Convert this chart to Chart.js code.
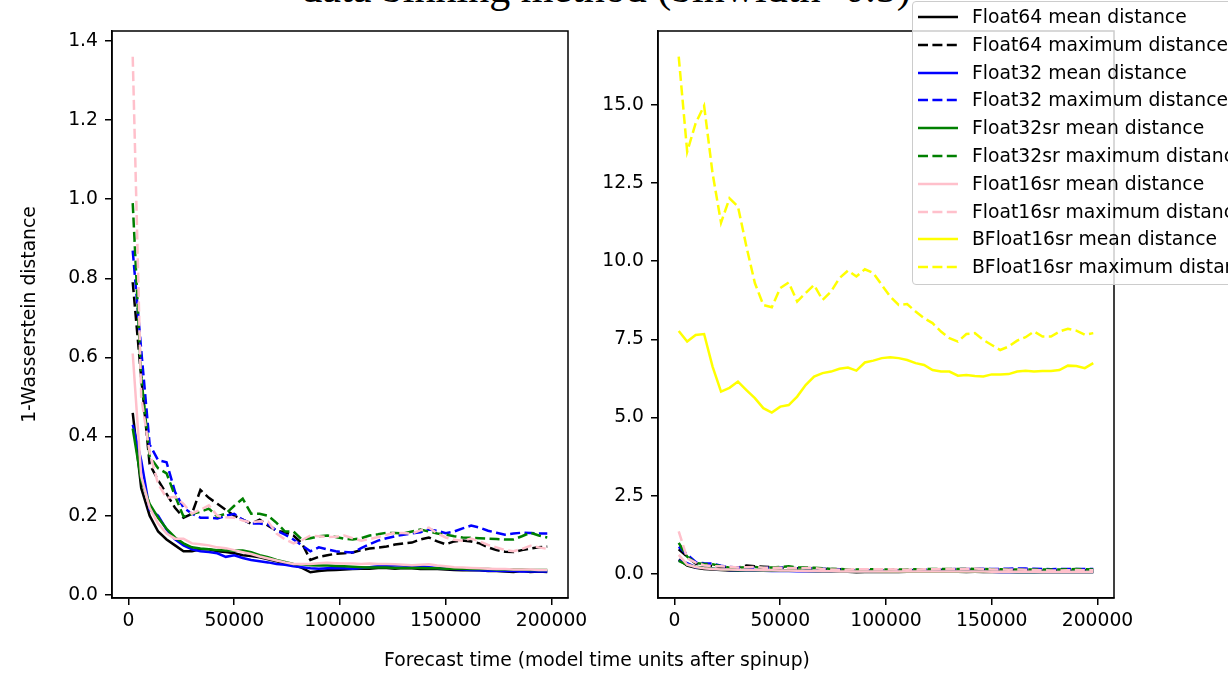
<!DOCTYPE html>
<html>
<head>
<meta charset="utf-8">
<script src="https://cdn.jsdelivr.net/npm/chart.js@4.4.1/dist/chart.umd.min.js"></script>
<style>
  html, body { margin: 0; padding: 0; background: #fff; }
  body { width: 1228px; height: 673px; overflow: hidden; position: relative; font-family: "DejaVu Sans", sans-serif; color: #000; }
  canvas { position: absolute; top: 0; }
  #left { left: 0; }
  #right { left: 560px; }
  #title { position: absolute; left: -8px; width: 1228px; top: -33px; text-align: center; font-family: "Liberation Serif", serif; font-size: 42px; line-height: 42px; white-space: nowrap; }
  #xlabel { position: absolute; left: 0; width: 1194px; top: 648px; text-align: center; font-size: 18.75px; line-height: 24px; white-space: nowrap; }
  #legend { position: absolute; left: 912px; top: 1px; width: 360px; height: 282px; border: 1px solid #ccc; border-radius: 4px; background: rgba(255,255,255,0.8); }
  .row { position: absolute; left: 0; height: 24px; white-space: nowrap; font-size: 18.75px; line-height: 24px; }
  .row svg { position: absolute; left: 5px; top: 10px; }
  .row span { position: absolute; left: 59px; top: 0; }
</style>
</head>
<body>
<div id="title">data binning method (binwidth=0.5)</div>
<canvas id="left" width="620" height="673"></canvas>
<canvas id="right" width="668" height="673"></canvas>
<div id="xlabel">Forecast time (model time units after spinup)</div>
<div id="legend"></div>
<script>
// forecast times
const times = [2000, 6000, 10000, 14000, 18000, 22000, 26000, 30000, 34000, 38000,
  42000, 46000, 50000, 54000, 58000, 62000, 66000, 70000, 74000, 78000,
  82000, 86000, 90000, 94000, 98000, 102000, 106000, 110000, 114000, 118000,
  122000, 126000, 130000, 134000, 138000, 142000, 146000, 150000, 154000, 158000,
  162000, 166000, 170000, 174000, 178000, 182000, 186000, 190000, 194000, 198000];

const f64Mean = [0.46,0.27,0.2,0.16,0.14,0.125,0.11,0.11,0.115,0.115, 0.11,0.108,0.105,0.1,0.098,0.095,0.09,0.085,0.08,0.075,
  0.068,0.057,0.06,0.062,0.063,0.064,0.065,0.066,0.066,0.068, 0.068,0.066,0.068,0.067,0.065,0.066,0.065,0.064,0.063,0.062,
  0.063,0.062,0.06,0.06,0.059,0.058,0.06,0.058,0.059,0.058];
const f64Max = [0.79,0.55,0.33,0.29,0.255,0.22,0.195,0.205,0.265,0.245, 0.23,0.215,0.2,0.19,0.18,0.19,0.175,0.162,0.158,0.15,
  0.13,0.088,0.096,0.1,0.104,0.105,0.107,0.113,0.117,0.119, 0.122,0.127,0.13,0.132,0.14,0.145,0.135,0.128,0.135,0.137,
  0.135,0.13,0.12,0.113,0.109,0.108,0.113,0.117,0.12,0.122];
const f32Mean = [0.43,0.34,0.215,0.2,0.165,0.14,0.125,0.115,0.11,0.108, 0.105,0.096,0.1,0.093,0.088,0.085,0.082,0.078,0.076,0.072,
  0.07,0.067,0.066,0.067,0.068,0.067,0.066,0.068,0.07,0.072, 0.073,0.074,0.074,0.072,0.072,0.07,0.068,0.066,0.065,0.064,
  0.063,0.062,0.061,0.061,0.06,0.06,0.059,0.059,0.059,0.059];
const f32Max = [0.87,0.62,0.38,0.34,0.335,0.26,0.22,0.205,0.195,0.195, 0.193,0.2,0.205,0.19,0.18,0.18,0.178,0.162,0.152,0.14,
  0.125,0.11,0.12,0.115,0.11,0.108,0.107,0.118,0.128,0.137, 0.143,0.148,0.152,0.155,0.158,0.165,0.162,0.156,0.16,0.168,
  0.175,0.17,0.162,0.157,0.152,0.155,0.157,0.156,0.155,0.155];
const f32srMean = [0.42,0.29,0.23,0.195,0.167,0.145,0.13,0.12,0.117,0.115, 0.113,0.112,0.112,0.112,0.108,0.1,0.095,0.088,0.083,0.078,
  0.077,0.075,0.074,0.074,0.073,0.072,0.071,0.07,0.069,0.069, 0.069,0.068,0.068,0.068,0.068,0.067,0.067,0.066,0.066,0.066,
  0.065,0.065,0.065,0.064,0.064,0.064,0.064,0.063,0.063,0.063];
const f32srMax = [0.99,0.55,0.35,0.32,0.307,0.25,0.198,0.205,0.21,0.218, 0.198,0.205,0.225,0.243,0.205,0.205,0.2,0.182,0.16,0.16,
  0.14,0.143,0.148,0.15,0.146,0.142,0.14,0.143,0.15,0.153, 0.157,0.156,0.155,0.16,0.165,0.16,0.155,0.152,0.148,0.145,
  0.144,0.143,0.142,0.141,0.14,0.14,0.148,0.157,0.15,0.145];
const f16srMean = [0.61,0.3,0.22,0.18,0.155,0.142,0.142,0.13,0.128,0.125, 0.12,0.118,0.113,0.108,0.103,0.097,0.092,0.087,0.082,0.078,
  0.078,0.078,0.08,0.081,0.08,0.079,0.079,0.078,0.079,0.078, 0.078,0.077,0.076,0.075,0.076,0.077,0.074,0.072,0.07,0.069,
  0.068,0.067,0.066,0.065,0.065,0.064,0.064,0.064,0.063,0.063];
const f16srMax = [1.36,0.5,0.36,0.28,0.245,0.248,0.23,0.205,0.215,0.226, 0.2,0.196,0.195,0.188,0.183,0.186,0.185,0.155,0.14,0.13,
  0.138,0.15,0.148,0.146,0.147,0.15,0.143,0.137,0.141,0.146, 0.152,0.157,0.156,0.155,0.163,0.17,0.155,0.145,0.139,0.137,
  0.142,0.135,0.126,0.12,0.113,0.11,0.116,0.124,0.12,0.116];
const bf16srMean = [7.77,7.43,7.64,7.67,6.63,5.83,5.95,6.15,5.88,5.62, 5.3,5.16,5.35,5.4,5.67,6.04,6.31,6.42,6.47,6.56,
  6.6,6.5,6.76,6.82,6.9,6.93,6.9,6.84,6.74,6.68, 6.52,6.47,6.47,6.34,6.36,6.33,6.31,6.38,6.38,6.39,
  6.47,6.5,6.47,6.49,6.49,6.52,6.66,6.65,6.58,6.74];
const bf16srMax = [16.54,13.5,14.41,14.97,12.81,11.23,12.01,11.75,10.47,9.3, 8.6,8.53,9.14,9.32,8.71,8.98,9.24,8.76,9.03,9.46,
  9.7,9.51,9.74,9.62,9.24,8.87,8.6,8.63,8.39,8.18, 8.02,7.75,7.54,7.43,7.67,7.7,7.48,7.32,7.16,7.27,
  7.46,7.57,7.75,7.59,7.59,7.75,7.84,7.78,7.65,7.7];

const xTicks = [0, 50000, 100000, 150000, 200000];
const leftYTicks = [0, 0.2, 0.4, 0.6, 0.8, 1.0, 1.2, 1.4];
const rightYTicks = [0, 2.5, 5, 7.5, 10, 12.5, 15];

const series = [
  { label: 'Float64 mean distance', data: f64Mean, color: 'black', dashed: false },
  { label: 'Float64 maximum distance', data: f64Max, color: 'black', dashed: true },
  { label: 'Float32 mean distance', data: f32Mean, color: 'blue', dashed: false },
  { label: 'Float32 maximum distance', data: f32Max, color: 'blue', dashed: true },
  { label: 'Float32sr mean distance', data: f32srMean, color: 'green', dashed: false },
  { label: 'Float32sr maximum distance', data: f32srMax, color: 'green', dashed: true },
  { label: 'Float16sr mean distance', data: f16srMean, color: 'pink', dashed: false },
  { label: 'Float16sr maximum distance', data: f16srMax, color: 'pink', dashed: true },
  { label: 'BFloat16sr mean distance', data: bf16srMean, color: 'yellow', dashed: false },
  { label: 'BFloat16sr maximum distance', data: bf16srMax, color: 'yellow', dashed: true }
];

const FONT = { family: 'DejaVu Sans', size: 18.75 };
const DASH = [10, 4.4];

const frame = {
  id: 'frame',
  afterDatasetsDraw(chart) {
    const { ctx, chartArea: a } = chart;
    ctx.save();
    ctx.strokeStyle = '#000';
    ctx.lineWidth = 1.5;
    ctx.strokeRect(a.left, a.top, a.right - a.left, a.bottom - a.top);
    ctx.restore();
  }
};

function makeChart(id, list, yMin, yMax, yTicks, yWidth, padRight, yTitle) {
  const datasets = list.map((s, k) => ({
    label: s.label,
    data: times.map((t, j) => ({ x: t, y: s.data[j] })),
    borderColor: s.color,
    backgroundColor: s.color,
    borderWidth: 2.5,
    borderDash: s.dashed ? DASH : [],
    pointRadius: 0,
    tension: 0,
    fill: false,
    order: list.length - k
  }));
  return new Chart(document.getElementById(id), {
    type: 'line',
    data: { datasets },
    plugins: [frame],
    options: {
      responsive: false,
      animation: false,
      devicePixelRatio: 1,
      layout: { padding: { left: 0, top: 31, right: padRight, bottom: 0 } },
      plugins: { legend: { display: false }, tooltip: { enabled: false } },
      scales: {
        x: {
          type: 'linear', min: -7800, max: 207800,
          afterBuildTicks: sc => { sc.ticks = xTicks.map(v => ({ value: v })); },
          afterFit: sc => { sc.height = 75; },
          ticks: { color: '#000', font: FONT, padding: 5, maxRotation: 0, callback: v => String(v) },
          grid: { drawOnChartArea: false, drawTicks: true, tickLength: 7, color: '#000', lineWidth: 1.5 },
          border: { display: true, color: '#000', width: 1.5 }
        },
        y: {
          type: 'linear', min: yMin, max: yMax,
          afterBuildTicks: sc => { sc.ticks = yTicks.map(v => ({ value: v })); },
          afterFit: sc => { sc.width = yWidth; },
          ticks: { color: '#000', font: FONT, padding: 7, callback: v => v.toFixed(1) },
          grid: { drawOnChartArea: false, drawTicks: true, tickLength: 7, color: '#000', lineWidth: 1.5 },
          border: { display: true, color: '#000', width: 1.5 },
          title: yTitle ? { display: true, text: yTitle, color: '#000', font: FONT, padding: { top: 19, bottom: 0 } } : { display: false }
        }
      }
    }
  });
}

makeChart('left', series.slice(0, 8), -0.008, 1.425, leftYTicks, 112, 52, '1-Wasserstein distance');
makeChart('right', series, -0.77, 17.36, rightYTicks, 98, 114, null);

// legend
const legend = document.getElementById('legend');
series.forEach((s, k) => {
  const row = document.createElement('div');
  row.className = 'row';
  row.style.top = (16 + 27.8 * k - 1 - 12) + 'px';
  const dash = s.dashed ? 'stroke-dasharray="10,4.4"' : '';
  row.innerHTML = '<svg width="40" height="4"><line x1="0" y1="2" x2="40" y2="2" stroke="' + s.color +
    '" stroke-width="2.5" ' + dash + '/></svg><span>' + s.label + '</span>';
  legend.appendChild(row);
});
</script>
</body>
</html>
